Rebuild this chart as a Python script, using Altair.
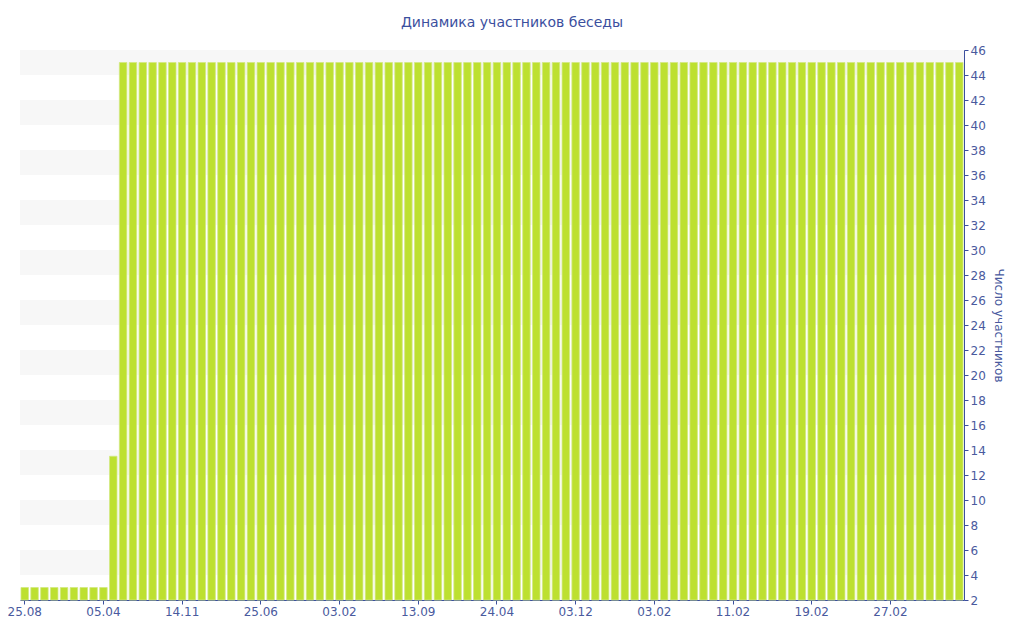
import altair as alt
import pandas as pd

# Participant counts per period
counts = [
    3, 3, 3, 3, 3, 3, 3, 3, 3, 13.5,
    45, 45, 45, 45, 45, 45, 45, 45, 45, 45,
    45, 45, 45, 45, 45, 45, 45, 45, 45, 45,
    45, 45, 45, 45, 45, 45, 45, 45, 45, 45,
    45, 45, 45, 45, 45, 45, 45, 45, 45, 45,
    45, 45, 45, 45, 45, 45, 45, 45, 45, 45,
    45, 45, 45, 45, 45, 45, 45, 45, 45, 45,
    45, 45, 45, 45, 45, 45, 45, 45, 45, 45,
    45, 45, 45, 45, 45, 45, 45, 45, 45, 45,
    45, 45, 45, 45, 45, 45,
]
tick_labels = ["25.08", "05.04", "14.11", "25.06", "03.02", "13.09",
               "24.04", "03.12", "03.02", "11.02", "19.02", "27.02"]
band_lo = [4, 8, 12, 16, 20, 24, 28, 32, 36, 40, 44]
band_hi = [6, 10, 14, 18, 22, 26, 30, 34, 38, 42, 46]

bars_df = pd.DataFrame({"idx": list(range(len(counts))), "count": counts})
bands_df = pd.DataFrame({"lo": band_lo, "hi": band_hi})

AXIS_COLOR = "#3b4f9e"
LABEL_COLOR = "#4a5a9e"
W, H = 944, 550

yscale = alt.Scale(domain=[2, 46], nice=False, zero=False)
label_arr = "[" + ",".join("'%s'" % t for t in tick_labels) + "]"

yaxis = alt.Axis(
    orient="right",
    title="Число участников",
    values=list(range(2, 47, 2)),
    labelFont="DejaVu Sans",
    labelFontSize=12,
    labelColor=LABEL_COLOR,
    titleFont="DejaVu Sans",
    titleFontSize=12,
    titleFontWeight="normal",
    titleColor=LABEL_COLOR,
    titlePadding=6,
    titleAngle=90,
    domainColor=AXIS_COLOR,
    tickColor=AXIS_COLOR,
    tickSize=4,
    labelPadding=2,
    grid=False,
)

bands = alt.Chart(bands_df).mark_rect(color="#f7f7f7").encode(
    y=alt.Y("lo:Q", scale=yscale, axis=yaxis),
    y2="hi:Q",
    x=alt.value(0),
    x2=alt.value(W),
)

bars = alt.Chart(bars_df).mark_bar(
    color="#bde030", stroke="#d2e982", strokeWidth=0.8
).encode(
    x=alt.X(
        "idx:O",
        scale=alt.Scale(paddingInner=0.24, paddingOuter=0.1),
        axis=alt.Axis(
            title=None,
            values=list(range(0, 96, 8)),
            labelExpr=label_arr + "[floor(datum.value/8)]",
            labelAngle=0,
            labelFont="DejaVu Sans",
            labelFontSize=12,
            labelColor=LABEL_COLOR,
            domainColor=AXIS_COLOR,
            tickColor=AXIS_COLOR,
            tickSize=4,
            labelPadding=2,
            grid=False,
        ),
    ),
    y=alt.Y("count:Q", scale=yscale, axis=yaxis),
    y2=alt.datum(2),
)

chart = alt.layer(bands, bars).properties(
    width=W,
    height=H,
    autosize=alt.AutoSizeParams(type="none"),
    padding={"left": 12, "top": 42, "right": 46, "bottom": 28},
    title=alt.TitleParams(
        "Динамика участников беседы",
        font="DejaVu Sans",
        fontSize=14,
        fontWeight="normal",
        color="#3b4f9e",
        anchor="middle",
        dx=20,
        offset=14,
    ),
).configure_view(stroke=None)

chart.save("out.html", embed_options={"renderer": "svg", "actions": False})
